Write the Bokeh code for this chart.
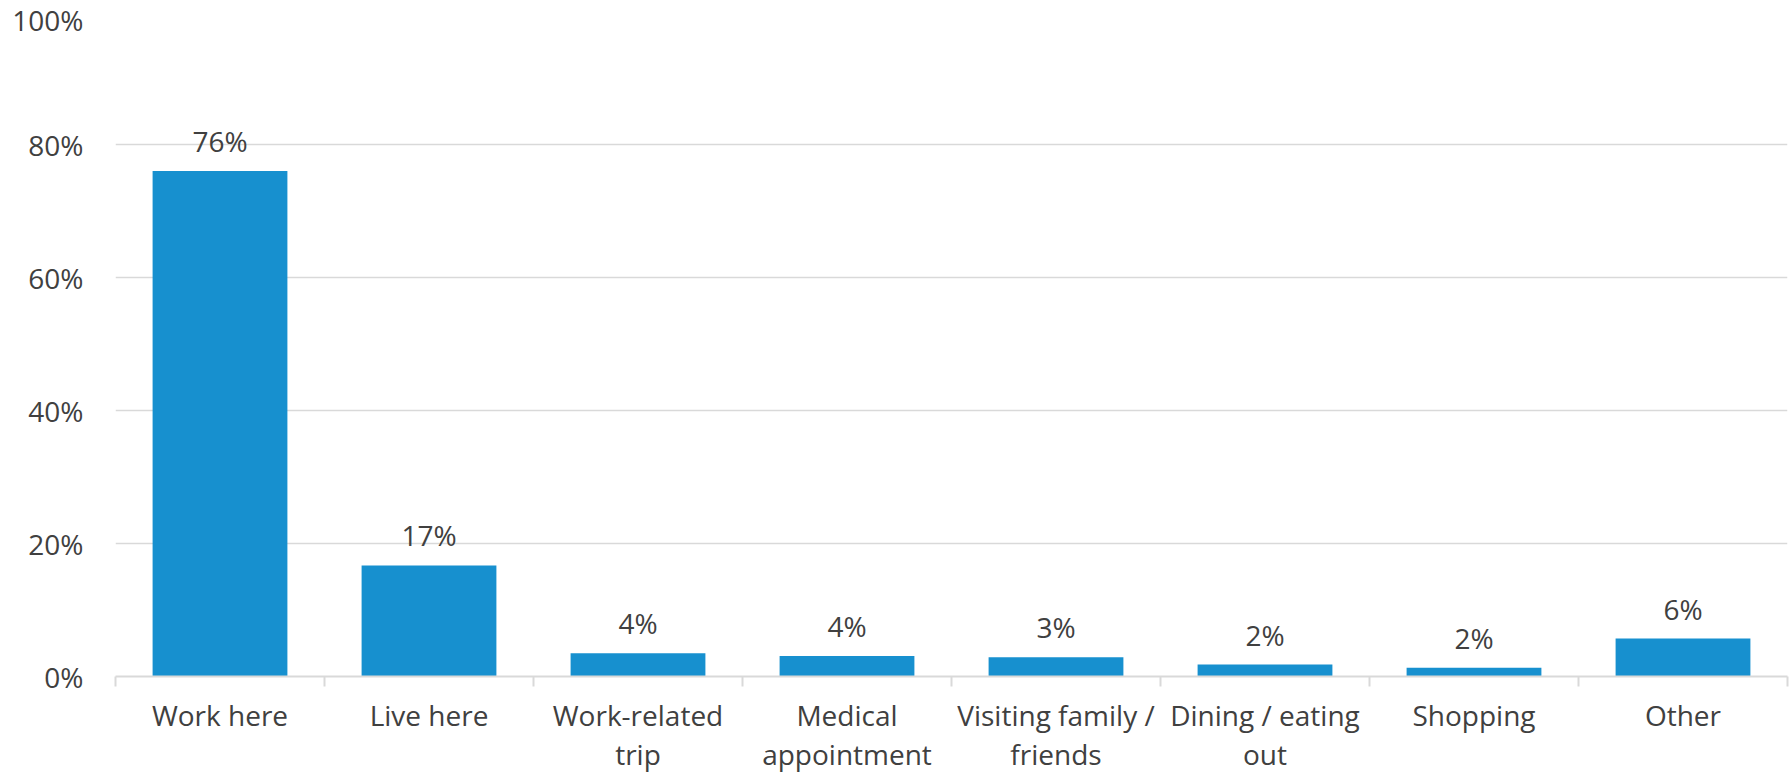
from bokeh.plotting import figure
from bokeh.models import (Range1d, FixedTicker, NumeralTickFormatter, ColumnDataSource)
from bokeh.core.properties import value
from bokeh.embed import file_html
from bokeh.resources import INLINE

categories = ["Work here", "Live here", "Work-related\ntrip", "Medical\nappointment",
              "Visiting family /\nfriends", "Dining / eating\nout", "Shopping", "Other"]
shares = [0.76, 0.167, 0.035, 0.031, 0.029, 0.018, 0.013, 0.057]
share_labels = ["76%", "17%", "4%", "4%", "3%", "2%", "2%", "6%"]
y_ticks = [0, 0.2, 0.4, 0.6, 0.8, 1.0]

FONT = "Open Sans"
TXT = "#404040"
GRID = "#d9d9d9"
BAR = "#1790cf"
FS = "28px"

n = len(categories)
centers = [i + 0.5 for i in range(n)]
bounds = list(range(n + 1))
src = ColumnDataSource(dict(x=centers, cat=categories, val=shares, lab=share_labels))

p = figure(x_range=Range1d(0, n), y_range=Range1d(0, 1.0),
           width=1792, height=794, output_backend="svg", toolbar_location=None,
           min_border_left=115, min_border_right=5,
           min_border_top=11, min_border_bottom=118)
p.outline_line_color = None
p.background_fill_color = "white"
p.border_fill_color = "white"

p.vbar(x="x", top="val", width=0.645, source=src, fill_color=BAR, line_color=None)
p.text(x="x", y="val", text="lab", source=src, text_align="center",
       text_baseline="bottom", y_offset=-11, text_font=value(FONT),
       text_font_size=FS, text_color=TXT)

# y axis
yax = p.yaxis[0]
yax.ticker = FixedTicker(ticks=y_ticks)
yax.formatter = NumeralTickFormatter(format="0%")
yax.axis_line_color = None
yax.major_tick_line_color = None
yax.minor_tick_line_color = None
yax.major_label_standoff = 26
yax.major_label_text_font = FONT
yax.major_label_text_font_size = FS
yax.major_label_text_color = TXT

p.ygrid.ticker = FixedTicker(ticks=y_ticks)
p.ygrid.grid_line_color = GRID
p.ygrid.grid_line_width = 1.5
p.xgrid.grid_line_color = None

# x axis: labels at category centres, ticks between categories
xax = p.xaxis[0]
xax.ticker = FixedTicker(ticks=centers, minor_ticks=bounds)
xax.major_label_overrides = {c: lab for c, lab in zip(centers, categories)}
xax.axis_line_color = GRID
xax.axis_line_width = 2
xax.major_tick_out = 0
xax.major_tick_in = 0
xax.major_tick_line_color = None
xax.minor_tick_out = 10
xax.minor_tick_in = 0
xax.minor_tick_line_color = GRID
xax.minor_tick_line_width = 2
xax.major_label_standoff = 9
xax.major_label_text_font = FONT
xax.major_label_text_font_size = FS
xax.major_label_text_color = TXT
xax.major_label_text_line_height = 1.05

open("out.html", "w").write(file_html(p, INLINE))
